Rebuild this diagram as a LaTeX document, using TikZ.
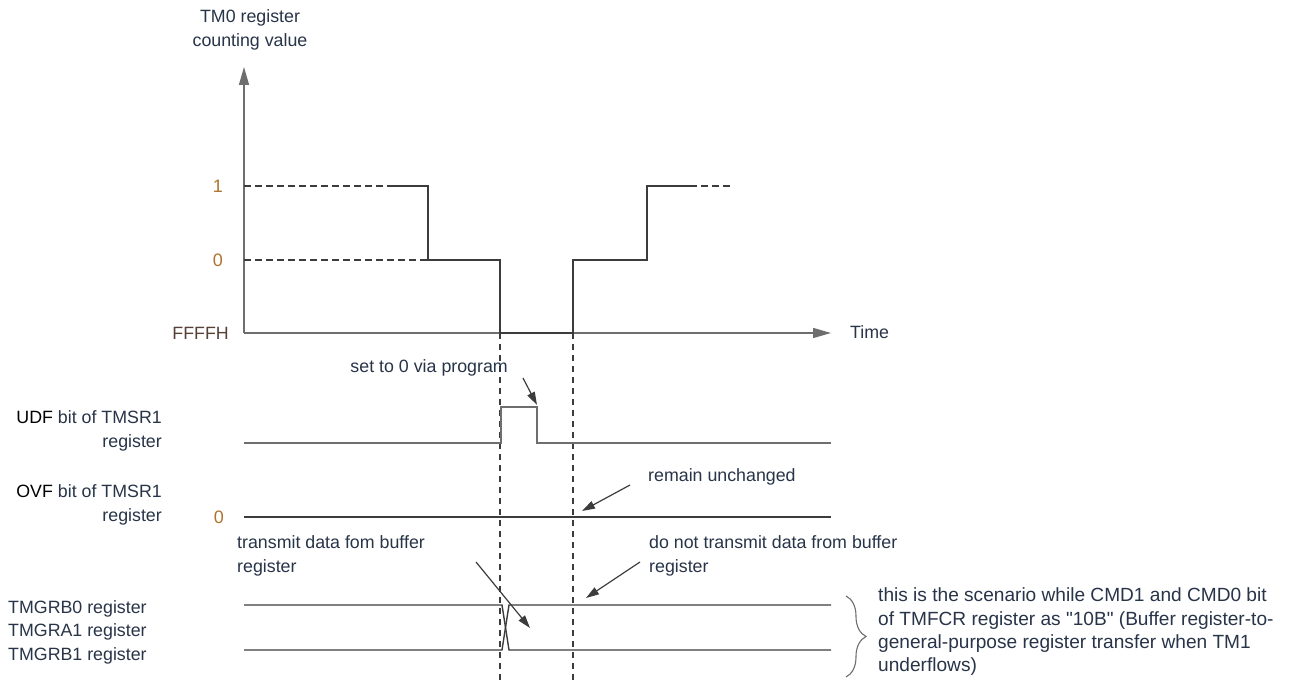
\documentclass[tikz,border=0pt]{standalone}
\usepackage{fontspec}
\setmainfont{Liberation Sans}[Ligatures=TeXOff]
\usetikzlibrary{arrows.meta,decorations.pathreplacing}
\definecolor{txt}{RGB}{40,52,72}
\definecolor{num}{RGB}{175,115,45}
\definecolor{fff}{RGB}{85,65,55}
\definecolor{ln}{RGB}{60,60,60}
\definecolor{lg}{RGB}{110,110,110}
\begin{document}
\begin{tikzpicture}[x=1pt,y=-1pt,
  lab/.style={font=\fontsize{17.8}{23.5}\selectfont, text=txt, inner sep=0pt},
  biglab/.style={font=\fontsize{19.1}{23.3}\selectfont, text=txt, inner sep=0pt},
  numlab/.style={font=\fontsize{18}{20}\selectfont, text=num, inner sep=0pt},
  wave/.style={draw=ln, line width=1.4pt},
  sig/.style={draw=lg, line width=1.4pt},
  axis/.style={draw=lg, line width=1.4pt, -{Triangle[length=18pt,width=10pt]}},
  guide/.style={draw=ln, line width=1.2pt, dash pattern=on 7pt off 4pt},
  vguide/.style={draw=ln, line width=1.2pt, dash pattern=on 6pt off 5pt},
  note/.style={draw=ln, line width=1.2pt, -{Triangle[length=13pt,width=8pt]}},
  bracestyle/.style={draw=lg, line width=1.1pt, decorate, decoration={brace, amplitude=20pt}}]
\fill[white] (0,0) rectangle (1295,684);
\useasboundingbox (0,0) rectangle (1295,684);

% axes
\coordinate (O) at (244,333);
\coordinate (ytop) at (244,67);
\coordinate (xend) at (831,333);
\draw[axis] (O) -- (ytop);
\draw[axis] (O) -- (xend);

% axis labels
\node[lab, align=center] (ylab) at (250,30) {TM0 register\\counting value};
\node[lab, anchor=west] (time) at (850,332) {Time};
\node[numlab, anchor=center] (one) at (218,186) {1};
\node[numlab, anchor=center] (zero) at (218,260) {0};
\node[font=\fontsize{17.8}{20}\selectfont, text=fff, inner sep=0pt, anchor=east] (ffffh) at (229,333) {FFFFH};

% guides for levels
\draw[guide] (244,186) -- (390,186);
\draw[guide] (244,260) -- (428,260);

% counter waveform
\draw[wave] (390,186) -- (428,186) -- (428,260) -- (500,260) -- (500,333)
  -- (573,333) -- (573,260) -- (647,260) -- (647,186) -- (690,186);
\draw[guide] (690,186) -- (731,186);

% vertical dashed lines
\draw[vguide] (500,333) -- (500,684);
\draw[vguide] (573,333) -- (573,684);

% UDF
\node[lab, align=right, anchor=east] (udf) at (162,431) {{\color{black}UDF} bit of TMSR1\\register};
\draw[sig] (244,443) -- (501,443) -- (501,407) -- (537,407) -- (537,443) -- (831,443);
\node[lab, anchor=east] (setzero) at (508,368) {set to 0 via program};
\coordinate (sz1) at (523,378);
\coordinate (sz2) at (537,405);
\draw[note] (sz1) -- (sz2);

% OVF
\node[lab, align=right, anchor=east] (ovf) at (162,505) {{\color{black}OVF} bit of TMSR1\\register};
\node[numlab, anchor=center] (ovfzero) at (219,517) {0};
\draw[wave] (244,517) -- (831,517);
\node[lab, anchor=west] (remain) at (648,477) {remain unchanged};
\coordinate (ru1) at (630,485);
\coordinate (ru2) at (582,511);
\draw[note] (ru1) -- (ru2);

% TMGR
\node[lab, align=left, anchor=west] (tmgr) at (8,632) {TMGRB0 register\\TMGRA1 register\\TMGRB1 register};
\draw[wave] (244,605) -- (502,605) -- (509,650) -- (831,650);
\draw[wave] (244,650) -- (502,650) -- (509,605) -- (831,605);

\node[lab, align=left, anchor=west] (tx) at (237,556) {transmit data fom buffer\\register};
\coordinate (tx1) at (476,562);
\coordinate (tx2) at (530,628);
\draw[note] (tx1) -- (tx2);

\node[lab, align=left, anchor=west] (notx) at (649,556) {do not transmit data from buffer\\register};
\coordinate (nt1) at (640,562);
\coordinate (nt2) at (586,598);
\draw[note] (nt1) -- (nt2);

% brace and note
\coordinate (bt) at (846,596);
\coordinate (bb) at (846,677);
\draw[bracestyle] (bt) -- (bb);
\node[biglab, align=left, anchor=west] (scen) at (878,632) {this is the scenario while CMD1 and CMD0 bit\\of TMFCR register as "10B" (Buffer register-to-\\general-purpose register transfer when TM1\\underflows)};
\end{tikzpicture}
\end{document}
